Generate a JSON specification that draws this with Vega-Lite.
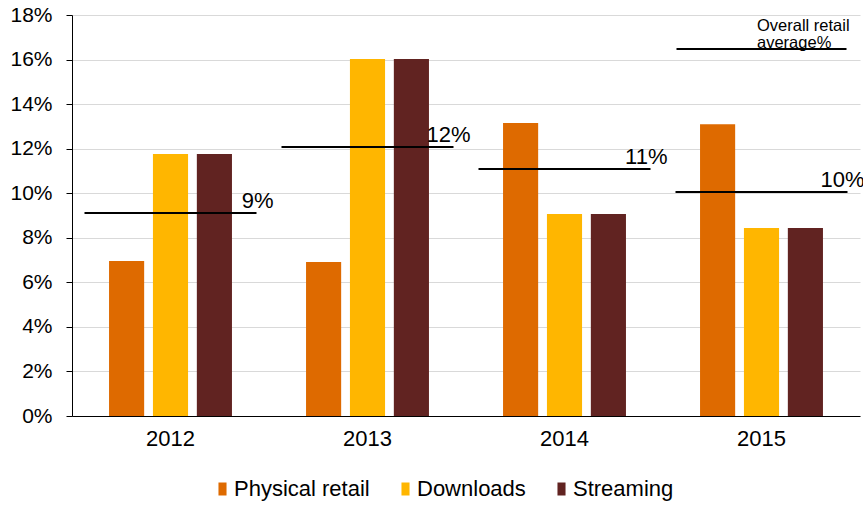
{
  "$schema": "https://vega.github.io/schema/vega-lite/v6.json",
  "width": 788,
  "height": 401,
  "autosize": {"type": "none"},
  "padding": {"left": 72, "top": 15, "right": 3, "bottom": 90},
  "config": {
    "font": "Liberation Sans",
    "view": {"stroke": null},
    "axis": {"labelColor": "#000000", "labelFont": "Liberation Sans", "domainColor": "#000000", "tickColor": "#000000"}
  },
  "datasets": {
    "bars": [
      {"year": "2012", "type": "Physical retail", "value": 0.0696},
      {"year": "2012", "type": "Downloads", "value": 0.1176},
      {"year": "2012", "type": "Streaming", "value": 0.1176},
      {"year": "2013", "type": "Physical retail", "value": 0.0691},
      {"year": "2013", "type": "Downloads", "value": 0.1602},
      {"year": "2013", "type": "Streaming", "value": 0.1602},
      {"year": "2014", "type": "Physical retail", "value": 0.1315},
      {"year": "2014", "type": "Downloads", "value": 0.0907},
      {"year": "2014", "type": "Streaming", "value": 0.0907},
      {"year": "2015", "type": "Physical retail", "value": 0.131},
      {"year": "2015", "type": "Downloads", "value": 0.0844},
      {"year": "2015", "type": "Streaming", "value": 0.0844}
    ],
    "avgs": [
      {"year": "2012", "avg": 0.0911, "label": "9%"},
      {"year": "2013", "avg": 0.1207, "label": "12%"},
      {"year": "2014", "avg": 0.1109, "label": "11%"},
      {"year": "2015", "avg": 0.1005, "label": "10%"}
    ],
    "note": [
      {"year": "2015", "pos": 0.1647, "label": ["Overall retail", "average%"]}
    ]
  },
  "layer": [
    {
      "data": {"name": "bars"},
      "mark": {"type": "bar"},
      "encoding": {
        "x": {
          "field": "year", "type": "nominal",
          "scale": {"paddingInner": 0.376, "paddingOuter": 0.188},
          "axis": {"title": null, "labelAngle": 0, "ticks": false, "labelFontSize": 22, "labelPadding": 12, "domainWidth": 1}
        },
        "xOffset": {
          "field": "type", "type": "nominal",
          "sort": ["Physical retail", "Downloads", "Streaming"],
          "scale": {"paddingInner": 0.2, "paddingOuter": 0}
        },
        "y": {
          "field": "value", "type": "quantitative",
          "scale": {"domain": [0, 0.18], "nice": false},
          "axis": {
            "title": null, "format": ".0%",
            "values": [0, 0.02, 0.04, 0.06, 0.08, 0.1, 0.12, 0.14, 0.16, 0.18],
            "gridColor": "#D9D9D9", "gridWidth": 1.2, "tickSize": 6, "labelPadding": 14,
            "labelFontSize": 21, "domainWidth": 1
          }
        },
        "color": {
          "field": "type", "type": "nominal",
          "sort": ["Physical retail", "Downloads", "Streaming"],
          "scale": {"domain": ["Physical retail", "Downloads", "Streaming"], "range": ["#DE6A00", "#FFB600", "#612321"]},
          "legend": {
            "title": null, "orient": "none", "legendX": 139.5, "legendY": 463,
            "direction": "horizontal",
            "symbolType": "M-0.62,-1H0.62V1H-0.62Z", "symbolSize": 169, "symbolStrokeWidth": 0,
            "labelFontSize": 22, "labelColor": "#000000", "labelOffset": 0.5, "columnPadding": 24, "padding": 0
          }
        }
      }
    },
    {
      "data": {"name": "avgs"},
      "mark": {"type": "tick", "orient": "horizontal", "size": 172, "thickness": 2, "color": "#000000", "opacity": 1},
      "encoding": {
        "x": {"field": "year", "type": "nominal"},
        "y": {"field": "avg", "type": "quantitative"}
      }
    },
    {
      "data": {"name": "avgs"},
      "mark": {"type": "text", "align": "right", "baseline": "alphabetic", "dx": 103, "dy": -5, "fontSize": 22, "color": "#000000"},
      "encoding": {
        "x": {"field": "year", "type": "nominal"},
        "y": {"field": "avg", "type": "quantitative"},
        "text": {"field": "label"}
      }
    },
    {
      "data": {"name": "note"},
      "mark": {"type": "tick", "orient": "horizontal", "size": 170, "thickness": 2, "color": "#000000", "opacity": 1},
      "encoding": {
        "x": {"field": "year", "type": "nominal"},
        "y": {"field": "pos", "type": "quantitative"}
      }
    },
    {
      "data": {"name": "note"},
      "mark": {"type": "text", "align": "left", "baseline": "alphabetic", "dx": -4.5, "dy": -18, "fontSize": 16.5, "lineHeight": 17, "color": "#000000"},
      "encoding": {
        "x": {"field": "year", "type": "nominal"},
        "y": {"field": "pos", "type": "quantitative"},
        "text": {"field": "label"}
      }
    }
  ]
}
